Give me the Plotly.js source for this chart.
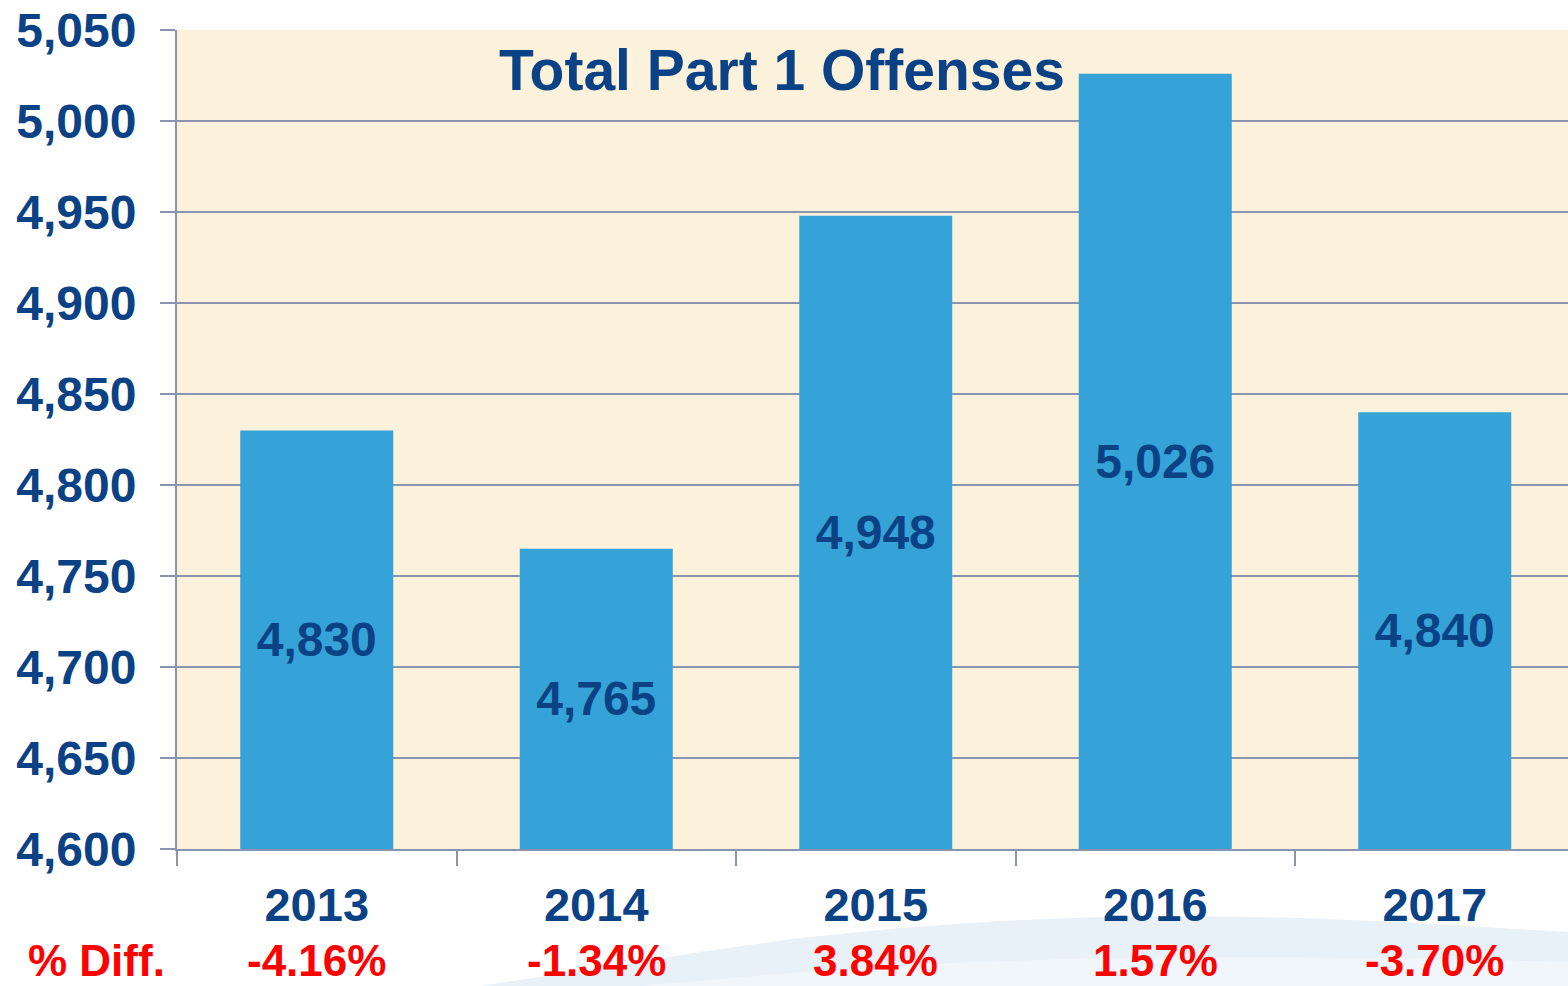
<!DOCTYPE html>
<html>
<head>
<meta charset="utf-8">
<script src="https://cdn.plot.ly/plotly-3.0.1.min.js"></script>
<style>
html,body{margin:0;padding:0;background:#ffffff;overflow:hidden;}
#chart{width:1568px;height:986px;}
</style>
</head>
<body>
<div id="chart"></div>
<script>
// ---- data ----
var years = ['2013', '2014', '2015', '2016', '2017'];
var offenses = [4830, 4765, 4948, 5026, 4840];
var pctDiff = ['-4.16%', '-1.34%', '3.84%', '1.57%', '-3.70%'];
var chartTitle = 'Total Part 1 Offenses';
var diffLabel = '% Diff.';
var yMin = 4600, yMax = 5050, yStep = 50;

// ---- style ----
var W = 1568, H = 986;
var mL = 177, mR = 0, mT = 30, mB = 137;
var plotW = W - mL - mR, plotH = H - mT - mB;
var navy = '#0B4285';
var red = '#FF0000';
var barBlue = '#35A2D8';
var gridCol = '#8A93B0';
var boldFont = 'Liberation Sans, Arial, sans-serif';

function px(x){ return (x - mL) / plotW; }
function py(y){ return (H - mB - y) / plotH; }

var catW = 279.5;
var xMax = 4.5 - (mL + 5 * catW - (W - mR)) / catW;
var xRange = xMax + 0.5;

// bars drawn from the axis floor so the inside labels sit mid-bar
var trace = {
  type: 'bar',
  x: years,
  base: years.map(function(){ return yMin; }),
  y: offenses.map(function(v){ return v - yMin; }),
  marker: {color: barBlue},
  text: offenses.map(function(v){ return v.toLocaleString('en-US'); }),
  textposition: 'inside',
  insidetextanchor: 'middle',
  textangle: 0,
  constraintext: 'none',
  textfont: {family: boldFont, size: 48, color: navy, weight: 'bold'},
  hoverinfo: 'none'
};

var diffY = py(960);
var annotations = [{
  xref: 'paper', yref: 'paper',
  x: px(782), y: py(70),
  xanchor: 'center', yanchor: 'middle',
  text: '<b>' + chartTitle + '</b>',
  showarrow: false,
  font: {family: boldFont, size: 57, color: navy}
}, {
  xref: 'paper', yref: 'paper',
  x: px(96), y: diffY,
  xanchor: 'center', yanchor: 'middle',
  text: '<b>' + diffLabel + '</b>',
  showarrow: false,
  font: {family: boldFont, size: 44, color: red}
}];
years.forEach(function(yr, i){
  annotations.push({
    xref: 'paper', yref: 'paper',
    x: (i + 0.5) / xRange, y: diffY,
    xanchor: 'center', yanchor: 'middle',
    text: '<b>' + pctDiff[i] + '</b>',
    showarrow: false,
    font: {family: boldFont, size: 44, color: red}
  });
});

function pathFrom(pts){
  var s = 'M ' + px(pts[0][0]) + ',' + py(pts[0][1]);
  for (var i = 1; i < pts.length; i++) {
    s += ' L ' + px(pts[i][0]) + ',' + py(pts[i][1]);
  }
  return s + ' Z';
}
var swooshOuter = [[480,986],[600,968],[700,952],[800,938],[900,928],[1000,921],[1100,917],[1200,916],[1300,918],[1400,922],[1500,928],[1568,932],[1568,986]];
var swooshInner = [[640,986],[800,972],[950,963],[1100,958],[1250,957],[1400,958],[1568,962],[1568,986]];

var layout = {
  width: W, height: H,
  margin: {l: mL, r: mR, t: mT, b: mB, pad: 0},
  paper_bgcolor: '#ffffff',
  plot_bgcolor: '#FCF1DA',
  showlegend: false,
  bargap: 1 - 153 / catW,
  xaxis: {
    type: 'category',
    range: [-0.5, xMax],
    showgrid: false,
    showline: true, linecolor: gridCol, linewidth: 2,
    ticks: 'outside', tickson: 'boundaries', ticklen: 15, tickwidth: 2, tickcolor: gridCol,
    tickfont: {family: boldFont, size: 47, color: navy, weight: 'bold'},
    ticklabelstandoff: 14,
    fixedrange: true
  },
  yaxis: {
    range: [yMin, yMax],
    dtick: yStep, tick0: yMin,
    tickformat: ',d',
    showgrid: true, gridcolor: gridCol, gridwidth: 2,
    showline: true, linecolor: gridCol, linewidth: 2,
    ticks: 'outside', ticklen: 15, tickwidth: 2, tickcolor: gridCol,
    tickfont: {family: boldFont, size: 48, color: navy, weight: 'bold'},
    ticklabelstandoff: 14,
    zeroline: false,
    fixedrange: true
  },
  annotations: annotations,
  shapes: [{
    type: 'path', xref: 'paper', yref: 'paper', layer: 'below',
    path: pathFrom(swooshOuter),
    fillcolor: '#E8F0F8', line: {width: 0}
  }, {
    type: 'path', xref: 'paper', yref: 'paper', layer: 'below',
    path: pathFrom(swooshInner),
    fillcolor: '#F1F6FB', line: {width: 0}
  }]
};

Plotly.newPlot('chart', [trace], layout, {displayModeBar: false, staticPlot: true});
</script>
</body>
</html>
